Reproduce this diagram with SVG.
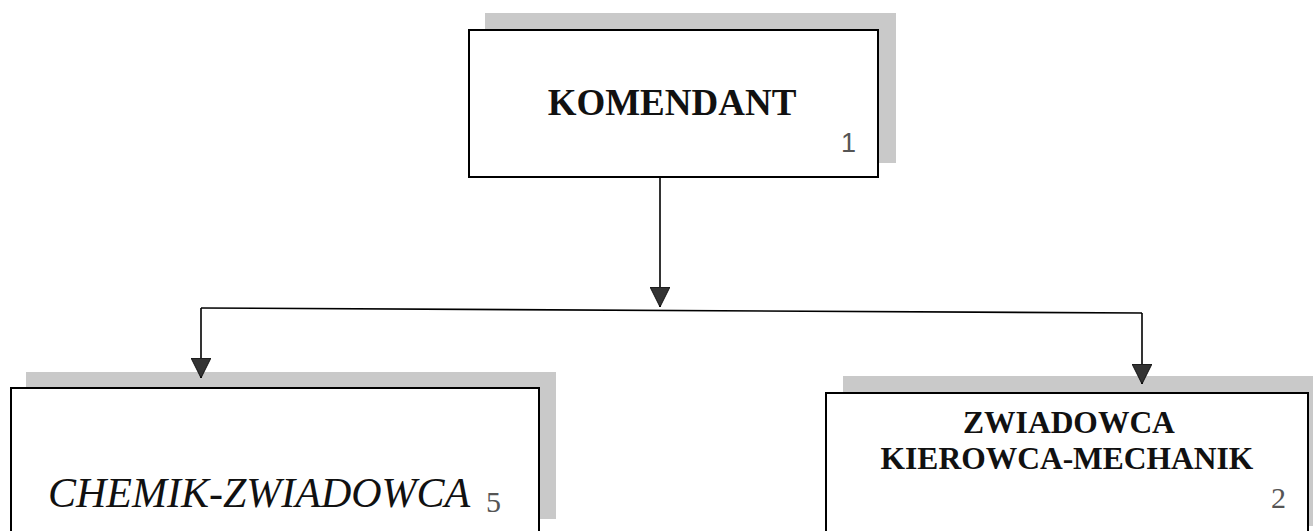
<svg xmlns="http://www.w3.org/2000/svg" width="1313" height="531" viewBox="0 0 1313 531">
<style>
.shadow{fill:#c9c9c9;}
.box{fill:#ffffff;stroke:#000000;stroke-width:2;}
.title{font-family:"Liberation Serif","Times New Roman",serif;font-weight:bold;fill:#111111;text-anchor:middle;}
.ital{font-family:"Liberation Serif","Times New Roman",serif;font-style:italic;fill:#111111;}
.num{font-family:"Liberation Serif","Times New Roman",serif;fill:#555555;}
.numsans{font-family:"Liberation Sans",Arial,sans-serif;fill:#555555;}
.conn{stroke:#000000;stroke-width:1.6;fill:none;}
</style>
<defs>
<marker id="arrow" viewBox="0 0 20 20" refX="20" refY="10" markerWidth="20" markerHeight="20" markerUnits="userSpaceOnUse" orient="auto">
<path d="M0,0 L20,10 L0,20 z" fill="#333333" stroke="#000000" stroke-width="0.8"/>
</marker>
</defs>
<rect width="1313" height="531" fill="#ffffff"/>

<g id="node-komendant">
<rect class="shadow" x="485" y="13" width="411" height="150"/>
<rect class="box" x="469" y="30" width="409" height="147"/>
<text class="title" x="672" y="115" font-size="37">KOMENDANT</text>
<text class="numsans" x="841" y="152" font-size="27">1</text>
</g>

<g id="node-chemik">
<rect class="shadow" x="26" y="372" width="530" height="147"/>
<rect class="box" x="11" y="388" width="528" height="160"/>
<text class="ital" x="48" y="507" font-size="42">CHEMIK-ZWIADOWCA</text>
<text class="num" x="486" y="512" font-size="30">5</text>
</g>

<g id="node-zwiadowca">
<rect class="shadow" x="843" y="376" width="480" height="150"/>
<rect class="box" x="826" y="393" width="482" height="160"/>
<text class="title" x="1069" y="433" font-size="31.5">ZWIADOWCA</text>
<text class="title" x="1067" y="469" font-size="31.5">KIEROWCA-MECHANIK</text>
<text class="num" x="1271" y="508" font-size="30">2</text>
</g>

<g id="connectors">
<line class="conn" x1="660" y1="177" x2="660" y2="307" marker-end="url(#arrow)"/>
<line class="conn" x1="201" y1="308" x2="1142" y2="313"/>
<line class="conn" x1="201" y1="308" x2="201" y2="378" marker-end="url(#arrow)"/>
<line class="conn" x1="1142" y1="313" x2="1142" y2="384" marker-end="url(#arrow)"/>
</g>
</svg>
